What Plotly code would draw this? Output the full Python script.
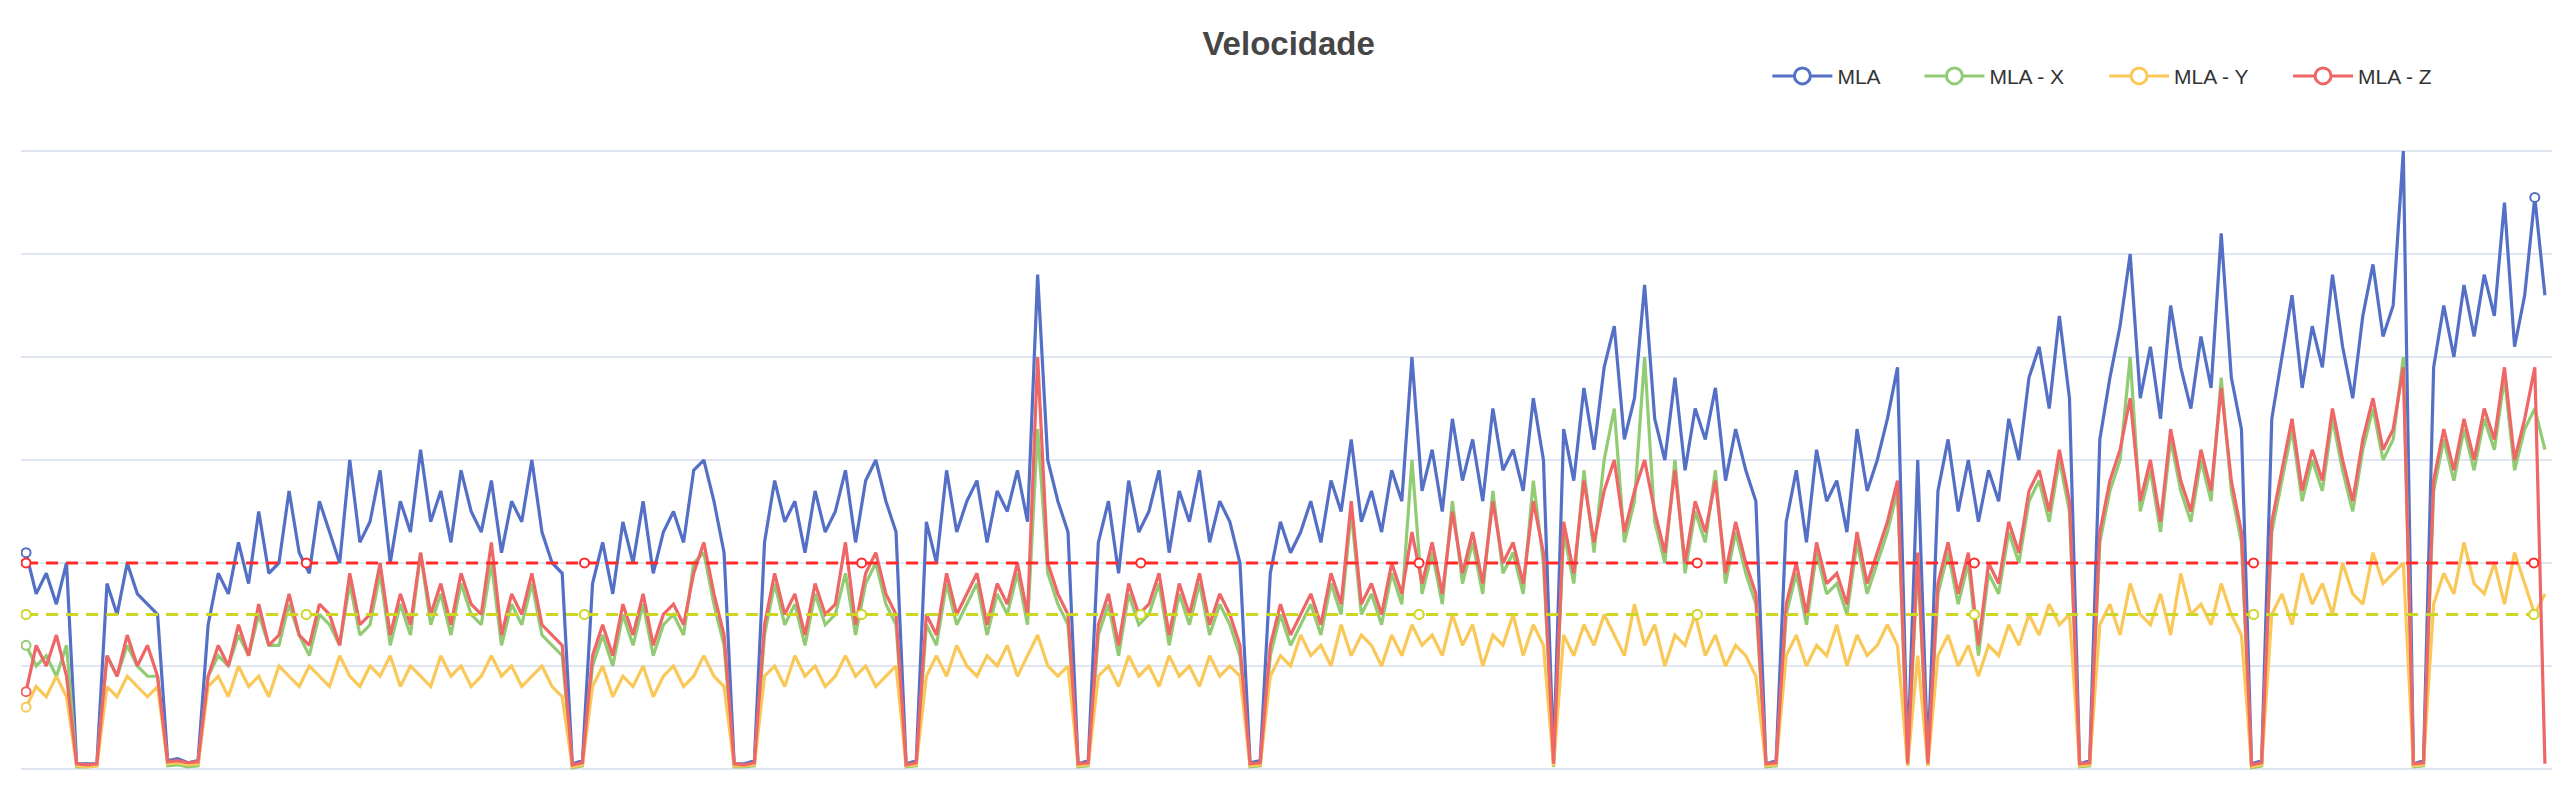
import plotly.graph_objects as go

mla = [2.1,1.7,1.9,1.6,2.0, 0.05,0.05,0.05, 1.8,1.5,2.0,1.7,1.6,1.5, 0.08,0.1,0.06,0.08,
 1.4,1.9,1.7,2.2,1.8,2.5,1.9,2.0,2.7,2.1,1.9,2.6,2.3,2.0,3.0,2.2,2.4,2.9,2.0,2.6,2.3,3.1,2.4,2.7,2.2,2.9,2.5,2.3,2.8,2.1,2.6,2.4,3.0,2.3,2.0,1.9,
 0.05,0.08,
 1.8,2.2,1.7,2.4,2.0,2.6,1.9,2.3,2.5,2.2,2.9,3.0,2.6,2.1,
 0.05,0.05,0.08,
 2.2,2.8,2.4,2.6,2.1,2.7,2.3,2.5,2.9,2.2,2.8,3.0,2.6,2.3,
 0.05,0.08,
 2.4,2.0,2.9,2.3,2.6,2.8,2.2,2.7,2.5,2.9,2.4,4.8,3.0,2.6,2.3,
 0.05,0.08,
 2.2,2.6,1.9,2.8,2.3,2.5,2.9,2.1,2.7,2.4,2.9,2.2,2.6,2.4,2.0,
 0.06,0.08,
 1.9,2.4,2.1,2.3,2.6,2.2,2.8,2.5,3.2,2.4,2.7,2.3,2.9,2.6,
 4.0,2.7,3.1,2.5,3.4,2.8,3.2,2.6,3.5,2.9,3.1,2.7,3.6,3.0,
 0.1,
 3.3,2.8,3.7,3.1,3.9,4.3,3.2,3.6,4.7,3.4,3.0,3.8,2.9,3.5,3.2,3.7,2.8,3.3,2.9,2.6,
 0.05,0.08,
 2.4,2.9,2.2,3.1,2.6,2.8,2.3,3.3,2.7,3.0,3.4,3.9,
 0.1, 3.0, 0.1,
 2.7,3.2,2.5,3.0,2.4,2.9,2.6,3.4,3.0,3.8,4.1,3.5,4.4,3.6,
 0.05,0.08,
 3.2,3.8,4.3,5.0,3.6,4.1,3.4,4.5,3.9,3.5,4.2,3.7,5.2,3.8,3.3,
 0.05,0.08,
 3.4,4.0,4.6,3.7,4.3,3.9,4.8,4.1,3.6,4.4,4.9,4.2,4.5,6.0,
 0.05,0.08,
 3.9,4.5,4.0,4.7,4.2,4.8,4.4,5.5,4.1,4.6,5.55,4.6]

mla_x = [1.2,1.0,1.1,0.9,1.2, 0.02,0.02,0.03, 1.1,0.9,1.2,1.0,0.9,0.9, 0.03,0.04,0.02,0.03,
 0.9,1.1,1.0,1.3,1.1,1.5,1.2,1.2,1.6,1.3,1.1,1.5,1.4,1.2,1.8,1.3,1.4,1.9,1.2,1.6,1.3,2.1,1.4,1.7,1.3,1.8,1.5,1.4,2.0,1.2,1.6,1.4,1.8,1.3,1.2,1.1,
 0.01,0.03,
 1.0,1.3,1.0,1.5,1.2,1.6,1.1,1.4,1.5,1.3,2.0,2.1,1.6,1.2,
 0.02,0.02,0.03,
 1.3,1.8,1.4,1.6,1.2,1.7,1.4,1.5,1.9,1.3,1.8,2.0,1.6,1.4,
 0.02,0.03,
 1.4,1.2,1.8,1.4,1.6,1.8,1.3,1.7,1.5,1.9,1.4,3.3,1.9,1.6,1.4,
 0.02,0.03,
 1.3,1.6,1.1,1.7,1.4,1.5,1.8,1.2,1.7,1.4,1.8,1.3,1.6,1.4,1.1,
 0.02,0.03,
 1.1,1.5,1.2,1.4,1.6,1.3,1.8,1.5,2.5,1.5,1.7,1.4,1.9,1.6,
 3.0,1.7,2.1,1.6,2.6,1.8,2.2,1.7,2.7,1.9,2.1,1.7,2.8,2.0,
 0.02,
 2.3,1.8,2.9,2.1,3.0,3.5,2.2,2.6,4.0,2.4,2.0,3.0,1.9,2.5,2.2,2.9,1.8,2.3,1.9,1.6,
 0.02,0.03,
 1.5,1.9,1.4,2.1,1.7,1.8,1.5,2.2,1.7,2.0,2.3,2.7,
 0.03, 2.0, 0.03,
 1.7,2.1,1.6,2.0,1.1,1.9,1.7,2.3,2.0,2.6,2.8,2.4,3.0,2.5,
 0.02,0.03,
 2.2,2.7,3.0,4.0,2.5,2.9,2.3,3.2,2.7,2.4,3.0,2.6,3.8,2.7,2.2,
 0.01,0.03,
 2.3,2.8,3.3,2.6,3.0,2.7,3.4,2.9,2.5,3.1,3.5,3.0,3.2,4.0,
 0.02,0.03,
 2.7,3.2,2.8,3.3,2.9,3.4,3.1,3.8,2.9,3.3,3.5,3.1]

mla_y = [0.6,0.8,0.7,0.9,0.7, 0.03,0.02,0.03, 0.8,0.7,0.9,0.8,0.7,0.8, 0.05,0.06,0.04,0.05,
 0.8,0.9,0.7,1.0,0.8,0.9,0.7,1.0,0.9,0.8,1.0,0.9,0.8,1.1,0.9,0.8,1.0,0.9,1.1,0.8,1.0,0.9,0.8,1.1,0.9,1.0,0.8,0.9,1.1,0.9,1.0,0.8,0.9,1.0,0.8,0.7,
 0.02,0.04,
 0.8,1.0,0.7,0.9,0.8,1.0,0.7,0.9,1.0,0.8,0.9,1.1,0.9,0.8,
 0.03,0.03,0.04,
 0.9,1.0,0.8,1.1,0.9,1.0,0.8,0.9,1.1,0.9,1.0,0.8,0.9,1.0,
 0.03,0.04,
 0.9,1.1,0.9,1.2,1.0,0.9,1.1,1.0,1.2,0.9,1.1,1.3,1.0,0.9,1.0,
 0.03,0.04,
 0.9,1.0,0.8,1.1,0.9,1.0,0.8,1.1,0.9,1.0,0.8,1.1,0.9,1.0,0.9,
 0.03,0.04,
 0.9,1.1,1.0,1.3,1.1,1.2,1.0,1.4,1.1,1.3,1.2,1.0,1.3,1.1,
 1.4,1.2,1.3,1.1,1.5,1.2,1.4,1.0,1.3,1.2,1.5,1.1,1.4,1.2,
 0.03,
 1.3,1.1,1.4,1.2,1.5,1.3,1.1,1.6,1.2,1.4,1.0,1.3,1.2,1.5,1.1,1.3,1.0,1.2,1.1,0.9,
 0.03,0.04,
 1.1,1.3,1.0,1.2,1.1,1.4,1.0,1.3,1.1,1.2,1.4,1.2,
 0.03, 1.1, 0.03,
 1.1,1.3,1.0,1.2,0.9,1.2,1.1,1.4,1.2,1.5,1.3,1.6,1.4,1.5,
 0.03,0.04,
 1.4,1.6,1.3,1.8,1.5,1.4,1.7,1.3,1.9,1.5,1.6,1.4,1.8,1.5,1.3,
 0.02,0.04,
 1.5,1.7,1.4,1.9,1.6,1.8,1.5,2.0,1.7,1.6,2.1,1.8,1.9,2.0,
 0.03,0.04,
 1.6,1.9,1.7,2.2,1.8,1.7,2.0,1.6,2.1,1.8,1.5,1.7]

mla_z = [0.75,1.2,1.0,1.3,0.9, 0.05,0.04,0.05, 1.1,0.9,1.3,1.0,1.2,0.9, 0.07,0.08,0.06,0.07,
 0.9,1.2,1.0,1.4,1.1,1.6,1.2,1.3,1.7,1.3,1.2,1.6,1.5,1.2,1.9,1.4,1.5,2.0,1.3,1.7,1.4,2.1,1.5,1.8,1.4,1.9,1.6,1.5,2.2,1.3,1.7,1.5,1.9,1.4,1.3,1.2,
 0.04,0.06,
 1.1,1.4,1.1,1.6,1.3,1.7,1.2,1.5,1.6,1.4,1.9,2.2,1.7,1.3,
 0.05,0.04,0.06,
 1.4,1.9,1.5,1.7,1.3,1.8,1.5,1.6,2.2,1.4,1.9,2.1,1.7,1.5,
 0.04,0.06,
 1.5,1.3,1.9,1.5,1.7,1.9,1.4,1.8,1.6,2.0,1.5,4.0,2.0,1.7,1.5,
 0.05,0.06,
 1.4,1.7,1.2,1.8,1.5,1.6,1.9,1.3,1.8,1.5,1.9,1.4,1.7,1.5,1.2,
 0.05,0.06,
 1.2,1.6,1.3,1.5,1.7,1.4,1.9,1.6,2.6,1.6,1.8,1.5,2.0,1.7,
 2.3,1.8,2.2,1.7,2.5,1.9,2.3,1.8,2.6,2.0,2.2,1.8,2.6,2.1,
 0.05,
 2.4,1.9,2.8,2.2,2.7,3.0,2.3,2.7,3.0,2.5,2.1,2.9,2.0,2.6,2.3,2.8,1.9,2.4,2.0,1.7,
 0.05,0.06,
 1.6,2.0,1.5,2.2,1.8,1.9,1.6,2.3,1.8,2.1,2.4,2.8,
 0.05, 2.1, 0.05,
 1.8,2.2,1.7,2.1,1.2,2.0,1.8,2.4,2.1,2.7,2.9,2.5,3.1,2.6,
 0.05,0.06,
 2.3,2.8,3.1,3.6,2.6,3.0,2.4,3.3,2.8,2.5,3.1,2.7,3.7,2.8,2.3,
 0.04,0.06,
 2.4,2.9,3.4,2.7,3.1,2.8,3.5,3.0,2.6,3.2,3.6,3.1,3.3,3.9,
 0.05,0.06,
 2.8,3.3,2.9,3.4,3.0,3.5,3.2,3.9,3.0,3.4,3.9,0.05]

avg_x = 1.5
avg_y = 1.5
avg_z = 2.0
avg_marker_idx = [0, 27.7, 55.2, 82.6, 110.2, 137.7, 165.2, 192.6, 220.2, 247.9]

names = ["MLA", "MLA - X", "MLA - Y", "MLA - Z"]
colors = ["#5470c6", "#91cc75", "#fac858", "#ee6666"]
series = [mla, mla_x, mla_y, mla_z]

fig = go.Figure()
n_max = max(len(s) for s in series)
for s, c in zip(series, colors):
    fig.add_trace(go.Scatter(x=list(range(len(s))), y=s, mode="lines",
                             line=dict(color=c, width=3.2), showlegend=False, hoverinfo="skip"))

for s, c in zip(series, colors):
    fig.add_trace(go.Scatter(x=[0], y=[s[0]], mode="markers", showlegend=False,
                             marker=dict(symbol="circle", size=9, color="white", line=dict(color=c, width=2))))
fig.add_trace(go.Scatter(x=[248], y=[mla[248]], mode="markers", showlegend=False,
                         marker=dict(symbol="circle", size=9, color="white", line=dict(color=colors[0], width=2))))

xs_line = [0, n_max - 1]
for val, col in [(avg_x, "#91cc75"), (avg_y, "rgba(215,215,20,0.85)"), (avg_z, "#ff2a2a")]:
    fig.add_trace(go.Scatter(x=xs_line, y=[val, val], mode="lines", showlegend=False,
                             line=dict(color=col, width=3, dash="12px,8px")))
    fig.add_trace(go.Scatter(x=avg_marker_idx, y=[val] * len(avg_marker_idx), mode="markers",
                             showlegend=False,
                             marker=dict(symbol="circle", size=9, color="white",
                                         line=dict(color=col, width=2))))

for nm, c in zip(names, colors):
    fig.add_trace(go.Scatter(x=[None], y=[None], mode="lines+markers", name=nm + "      ",
                             line=dict(color=c, width=3),
                             marker=dict(symbol="circle", size=18, color="white",
                                         line=dict(color=c, width=3))))

fig.update_layout(
    width=2569, height=788,
    paper_bgcolor="white", plot_bgcolor="white",
    margin=dict(l=13, r=25, t=140, b=24),
    title=dict(text="<b>Velocidade</b>", x=0.4985, xanchor="center", y=0.955, yanchor="middle",
               font=dict(family="Liberation Sans, Arial", size=33, color="#464646")),
    legend=dict(orientation="h", x=0.69, xanchor="left", y=1.115, yanchor="middle",
                font=dict(family="Liberation Sans, Arial", size=21, color="#333"),
                itemwidth=60, bgcolor="rgba(0,0,0,0)"),
    showlegend=True,
)
fig.update_xaxes(range=[-0.5, n_max - 0.3], showgrid=False, showticklabels=False, zeroline=False,
                 showline=False)
fig.update_yaxes(range=[-0.03, 6.03], tickvals=[0, 1, 2, 3, 4, 5, 6], showgrid=True,
                 gridcolor="#e0e6f1", gridwidth=2,
                 showticklabels=False, zeroline=False)
fig.write_html("out.html")
